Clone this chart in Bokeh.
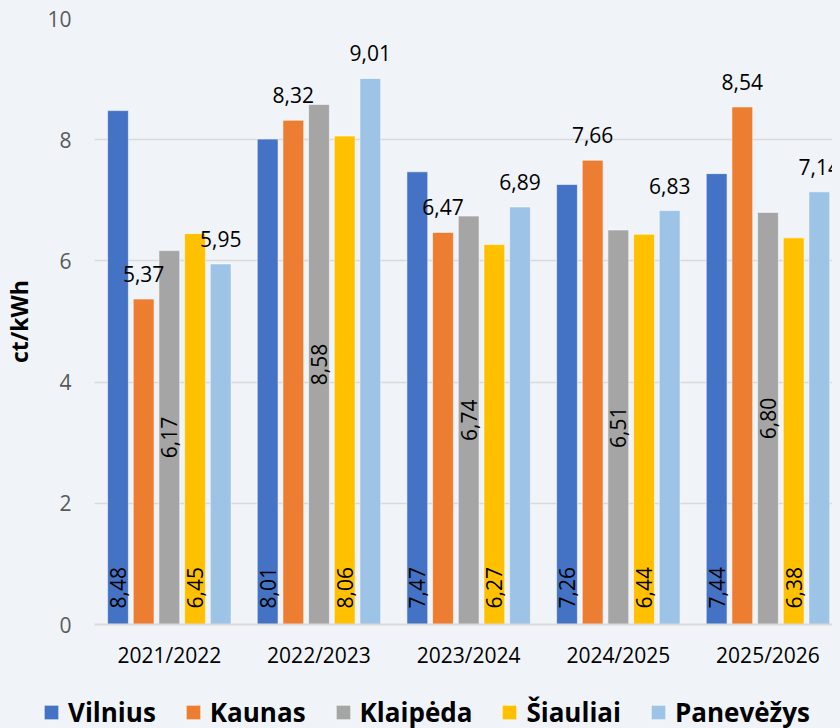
import math
from bokeh.plotting import figure
from bokeh.models import Range1d, FixedTicker, ColumnDataSource, Legend, LegendItem
from bokeh.transform import dodge
from bokeh.core.properties import value
from bokeh.embed import file_html
from bokeh.resources import INLINE

categories = ["2021/2022", "2022/2023", "2023/2024", "2024/2025", "2025/2026"]
series_names = ["Vilnius", "Kaunas", "Klaipėda", "Šiauliai", "Panevėžys"]
vilnius = [8.48, 8.01, 7.47, 7.26, 7.44]
kaunas = [5.37, 8.32, 6.47, 7.66, 8.54]
klaipeda = [6.17, 8.58, 6.74, 6.51, 6.80]
siauliai = [6.45, 8.06, 6.27, 6.44, 6.38]
panevezys = [5.95, 9.01, 6.89, 6.83, 7.14]
y_ticks = [0, 2, 4, 6, 8, 10]
colors = ["#4472C4", "#ED7D31", "#A5A5A5", "#FFC000", "#9DC3E6"]

BG = "#F0F4F8"
FONT = "Open Sans"


def fmt(vals):
    return [f"{v:.2f}".replace(".", ",") for v in vals]


centers = [i + 0.5 for i in range(len(categories))]
src = ColumnDataSource(dict(
    x=centers,
    vil=vilnius, kau=kaunas, kla=klaipeda, sia=siauliai, pan=panevezys,
    vil_t=fmt(vilnius), kau_t=fmt(kaunas), kla_t=fmt(klaipeda),
    sia_t=fmt(siauliai), pan_t=fmt(panevezys),
    kla_mid=[v / 2 for v in klaipeda],
    zero=[0] * len(categories),
))

p = figure(width=832, height=676, output_backend="svg", toolbar_location=None,
           x_range=Range1d(0, 4.931), y_range=Range1d(0, 10),
           min_border_left=85, min_border_right=0, min_border_top=18,
           min_border_bottom=52)
p.background_fill_color = BG
p.border_fill_color = BG
p.outline_line_color = None

offsets = [-0.343, -0.1716, 0.0, 0.1716, 0.343]
cols = ["vil", "kau", "kla", "sia", "pan"]
for col, off, c in zip(cols, offsets, colors):
    p.vbar(x=dodge("x", off, range=p.x_range), top=col, width=0.139,
           source=src, fill_color=c, line_color="white", line_alpha=0.55,
           line_width=1)

label_common = dict(source=src, text_font=value(FONT), text_font_size="21px",
                    text_color="#000000")
for col, off in (("vil", offsets[0]), ("sia", offsets[3])):
    p.text(x=dodge("x", off, range=p.x_range), y="zero", text=col + "_t",
           angle=math.pi / 2, text_align="left", text_baseline="middle",
           y_offset=-16, **label_common)
p.text(x=dodge("x", offsets[2], range=p.x_range), y="kla_mid", text="kla_t",
       angle=math.pi / 2, text_align="center", text_baseline="middle",
       **label_common)
for col, off in (("kau", offsets[1]), ("pan", offsets[4])):
    p.text(x=dodge("x", off, range=p.x_range), y=col, text=col + "_t",
           text_align="center", text_baseline="bottom", y_offset=-17,
           **label_common)

p.xgrid.grid_line_color = None
p.ygrid.grid_line_color = "#D9D9D9"
p.ygrid.grid_line_width = 1.5
p.ygrid.ticker = FixedTicker(ticks=y_ticks)

p.yaxis.ticker = FixedTicker(ticks=y_ticks)
p.yaxis.axis_line_color = None
p.yaxis.major_tick_line_color = None
p.yaxis.minor_tick_line_color = None
p.yaxis.major_tick_out = 0
p.yaxis.major_label_standoff = 23
p.yaxis.major_label_text_font = FONT
p.yaxis.major_label_text_font_size = "21px"
p.yaxis.major_label_text_color = "#595959"
p.yaxis.axis_label = "ct/kWh"
p.yaxis.axis_label_text_font = FONT
p.yaxis.axis_label_text_font_size = "23px"
p.yaxis.axis_label_text_font_style = "bold"
p.yaxis.axis_label_text_color = "#000000"
p.yaxis.axis_label_standoff = 9

p.xaxis.ticker = FixedTicker(ticks=centers)
p.xaxis.major_label_overrides = {c: lab for c, lab in zip(centers, categories)}
p.xaxis.axis_line_color = "#D9D9D9"
p.xaxis.axis_line_width = 2
p.xaxis.major_tick_line_color = None
p.xaxis.minor_tick_line_color = None
p.xaxis.major_tick_out = 0
p.xaxis.major_label_standoff = 16
p.xaxis.major_label_text_font = FONT
p.xaxis.major_label_text_font_size = "21px"
p.xaxis.major_label_text_color = "#000000"

# legend strip underneath, as a separate root so its frame spans the full width
lg = figure(width=832, height=52, output_backend="svg", toolbar_location=None,
            x_range=Range1d(0, 1), y_range=Range1d(0, 1),
            x_axis_location=None, y_axis_location=None,
            min_border_left=0, min_border_right=0, min_border_top=0,
            min_border_bottom=0)
lg.grid.visible = False
lg.background_fill_color = BG
lg.border_fill_color = BG
lg.outline_line_color = None
dummy = ColumnDataSource(dict(x=[-10], top=[0]))
leg_renderers = [lg.vbar(x="x", top="top", width=0.1, source=dummy, fill_color=c,
                         line_color="white", line_alpha=0.55) for c in colors]
legend = Legend(items=[LegendItem(label=n, renderers=[r]) for n, r in zip(series_names, leg_renderers)],
                orientation="horizontal", location=(42, -2),
                glyph_width=18, glyph_height=18, label_standoff=8, spacing=28,
                padding=0, margin=0, border_line_color=None,
                background_fill_alpha=0,
                label_text_font=FONT, label_text_font_size="26px",
                label_text_font_style="bold", label_text_color="#000000")
lg.add_layout(legend, "center")

html = file_html([p, lg], INLINE)
html = html.replace("<head>", "<head><style>body{background:#F0F4F8;}</style>", 1)
open("out.html", "w").write(html)
